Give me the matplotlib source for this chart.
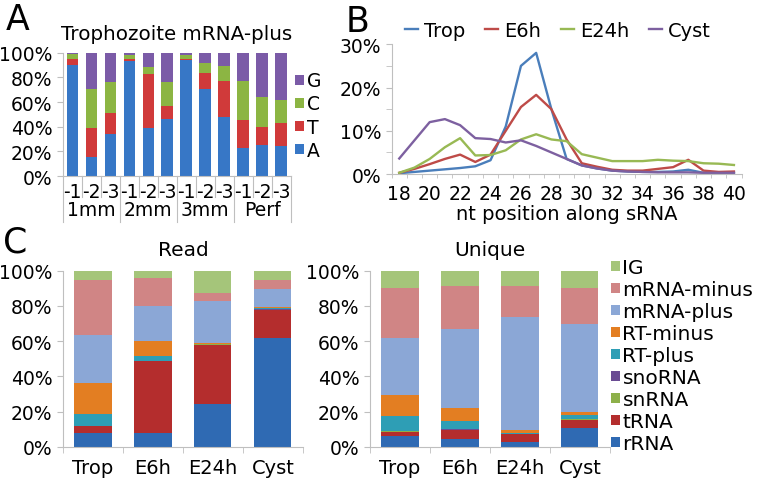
import numpy as np
import matplotlib.pyplot as plt
import matplotlib.transforms as mtransforms
from matplotlib.ticker import PercentFormatter, MultipleLocator, FixedLocator

plt.rcParams['font.family'] = ['DejaVu Sans']
plt.rcParams['font.size'] = 13.5

GRAY = '#bfbfbf'

# ---- panel A data (percent of reads, stacked A/T/C/G)
a_ticks = ['-1', '-2', '-3'] * 4
a_groups = ['1mm', '2mm', '3mm', 'Perf']
a_A = [90, 15.5, 34, 93.2, 39, 46, 94.5, 71, 48, 23, 25, 24]
a_T = [5.4, 23.2, 17, 1.8, 44, 11, 0.9, 13, 29.4, 22.5, 14.8, 18.8]
a_C = [3.5, 32.1, 25.6, 3, 5.6, 19.3, 3.2, 8, 11.6, 31.5, 24, 19.2]
a_G = [1.1, 29.2, 23.4, 2, 11.4, 23.7, 1.4, 8, 11, 23, 36.2, 38]

# ---- panel B data (length distribution)
nt = list(range(18, 41))
trop = [0.2, 0.5, 0.8, 1.1, 1.4, 1.8, 3.2, 11, 25, 28, 15, 3.5, 2, 1.3, 0.8, 0.6,
        0.5, 0.5, 0.6, 1.0, 0.3, 0.2, 0.2]
e6h = [0.3, 1.2, 2.3, 3.5, 4.5, 2.8, 4.5, 10, 15.5, 18.3, 15, 8, 2.5, 1.7, 1.0, 0.8,
       0.8, 1.2, 1.6, 3.3, 0.8, 0.5, 0.6]
e24h = [0.3, 1.5, 3.5, 6.2, 8.3, 4.3, 4.4, 5.5, 8.0, 9.2, 8.0, 7.6, 4.6, 3.8, 3.0, 3.0,
        3.0, 3.3, 3.1, 3.0, 2.5, 2.4, 2.1]
cyst = [3.6, 7.8, 12.0, 12.7, 11.3, 8.3, 8.1, 7.3, 7.8, 6.5, 5.0, 3.5, 2.0, 1.3, 0.8, 0.6,
        0.5, 0.4, 0.4, 0.4, 0.3, 0.3, 0.3]

# ---- panel C data
samples = ['Trop', 'E6h', 'E24h', 'Cyst']
classes = ['rRNA', 'tRNA', 'snRNA', 'snoRNA', 'RT-plus', 'RT-minus',
           'mRNA-plus', 'mRNA-minus', 'IG']
read_rRNA = [7.6, 7.6, 24.2, 61.7]
read_tRNA = [4.1, 41.2, 33.9, 15.8]
read_snRNA = [0.2, 0.1, 0.1, 0.3]
read_snoRNA = [0.2, 0.1, 0.1, 0.5]
read_RTplus = [6.3, 2.6, 0.2, 0.4]
read_RTminus = [17.6, 8.7, 0.7, 0.8]
read_mplus = [27.3, 19.9, 23.4, 9.9]
read_mminus = [31.2, 15.7, 4.7, 5.1]
read_IG = [5.5, 4.1, 12.7, 5.5]

uniq_rRNA = [5.9, 4.7, 3.0, 10.6]
uniq_tRNA = [2.6, 5.0, 4.2, 4.7]
uniq_snRNA = [0.2, 0.1, 0.2, 0.4]
uniq_snoRNA = [0.2, 0.1, 0.1, 0.3]
uniq_RTplus = [8.5, 4.5, 0.5, 2.0]
uniq_RTminus = [12.3, 7.8, 1.5, 1.7]
uniq_mplus = [31.9, 45.0, 64.2, 49.8]
uniq_mminus = [28.7, 24.1, 17.6, 20.8]
uniq_IG = [9.7, 8.7, 8.7, 9.7]

c_colors = ['#2f6ab3', '#b42d2d', '#8db04a', '#6a4c93', '#2e9eb5', '#e37e22',
            '#8ba7d6', '#d08585', '#a5c57a']


def style_axes(ax):
    for s in ['top', 'right']:
        ax.spines[s].set_visible(False)
    for s in ['left', 'bottom']:
        ax.spines[s].set_color(GRAY)
    ax.tick_params(which='both', color=GRAY, length=4)
    ax.yaxis.set_major_formatter(PercentFormatter(decimals=0))


fig = plt.figure(figsize=(7.59, 4.81), dpi=100)

# ================= A
axA = fig.add_axes([0.083, 0.632, 0.300, 0.256])
x = np.arange(len(a_A))
w = 0.62
bottom = np.zeros(len(a_A))
handles = []
for vals, col, lab in [(a_A, '#3777c6', 'A'), (a_T, '#d03a3a', 'T'),
                       (a_C, '#8cb543', 'C'), (a_G, '#7b5ba7', 'G')]:
    b = axA.bar(x, vals, w, bottom=bottom, color=col, label=lab)
    handles.append(b)
    bottom += np.array(vals)
axA.set_xlim(-0.5, len(a_A) - 0.5)
axA.set_ylim(0, 100)
style_axes(axA)
axA.yaxis.set_major_locator(MultipleLocator(20))
axA.set_xticks(x)
axA.set_xticklabels(a_ticks)
axA.tick_params(axis='x', length=0, pad=4)
axA.set_title('Trophozoite mRNA-plus', fontsize=14.3, pad=10)
trans = mtransforms.blended_transform_factory(axA.transData, axA.transAxes)
for i, g in enumerate(a_groups):
    axA.text(3 * i + 1, -0.27, g, transform=trans, ha='center', va='center')
for k in range(len(a_A) + 1):
    y2 = -0.37 if k % 3 == 0 else -0.17
    axA.plot([k - 0.5, k - 0.5], [0, y2], color=GRAY, lw=0.8,
             transform=trans, clip_on=False)
axA.legend(handles[::-1], ['G', 'C', 'T', 'A'], loc='upper left',
           bbox_to_anchor=(1.02, 0.85), frameon=False, handlelength=0.45,
           handleheight=0.45, handletextpad=0.15, labelspacing=0.22,
           borderpad=0, borderaxespad=0)

# ================= B
axB = fig.add_axes([0.516, 0.636, 0.461, 0.270])
for vals, col, lab in [(trop, '#4a7ebb', 'Trop'), (e6h, '#be4b48', 'E6h'),
                       (e24h, '#98b954', 'E24h'), (cyst, '#7d60a0', 'Cyst')]:
    axB.plot(nt, vals, color=col, lw=1.7, label=lab)
axB.set_xlim(17.5, 40.5)
axB.set_ylim(0, 30)
style_axes(axB)
axB.yaxis.set_major_locator(MultipleLocator(10))
axB.yaxis.set_minor_locator(MultipleLocator(5))
axB.set_xticks(nt[::2])
axB.xaxis.set_minor_locator(FixedLocator(np.arange(17.5, 41, 1)))
axB.tick_params(axis='x', which='major', length=0, pad=7)
axB.tick_params(axis='x', which='minor', length=3)
axB.set_xlabel('nt position along sRNA', fontsize=14, labelpad=1)
axB.legend(loc='center', bbox_to_anchor=(0.735, 0.935),
           bbox_transform=fig.transFigure, ncol=4, frameon=False,
           fontsize=14, handlelength=0.7, handletextpad=0.3, columnspacing=1.0,
           borderpad=0, borderaxespad=0)


# ================= C
def stacked(ax, series, title):
    xc = np.arange(len(samples))
    bot = np.zeros(len(samples))
    bars = []
    for vals, col, lab in zip(series, c_colors, classes):
        bars.append(ax.bar(xc, vals, 0.62, bottom=bot, color=col, label=lab))
        bot += np.array(vals)
    ax.set_xlim(-0.5, len(samples) - 0.5)
    ax.set_ylim(0, 100)
    style_axes(ax)
    ax.yaxis.set_major_locator(MultipleLocator(20))
    ax.set_xticks(xc)
    ax.set_xticklabels(samples, fontsize=14)
    ax.xaxis.set_minor_locator(FixedLocator(np.arange(-0.5, len(samples), 1)))
    ax.tick_params(axis='x', which='major', length=0, pad=8)
    ax.tick_params(axis='x', which='minor', length=4)
    ax.set_title(title, fontsize=14.5, pad=11)
    return bars


axR = fig.add_axes([0.083, 0.069, 0.316, 0.366])
stacked(axR, [read_rRNA, read_tRNA, read_snRNA, read_snoRNA, read_RTplus,
              read_RTminus, read_mplus, read_mminus, read_IG], 'Read')
axU = fig.add_axes([0.4875, 0.069, 0.316, 0.366])
bars = stacked(axU, [uniq_rRNA, uniq_tRNA, uniq_snRNA, uniq_snoRNA, uniq_RTplus,
                     uniq_RTminus, uniq_mplus, uniq_mminus, uniq_IG], 'Unique')
fig.legend(bars[::-1], classes[::-1], loc='upper left',
           bbox_to_anchor=(0.805, 0.461), frameon=False, fontsize=14.5,
           handlelength=0.45, handleheight=0.4, handletextpad=0.12,
           labelspacing=0.15, borderpad=0, borderaxespad=0)

# panel letters
fig.text(0.008, 0.938, 'A', fontsize=25)
fig.text(0.455, 0.934, 'B', fontsize=25)
fig.text(0.004, 0.476, 'C', fontsize=25)

fig.savefig('out.png', dpi=100)
